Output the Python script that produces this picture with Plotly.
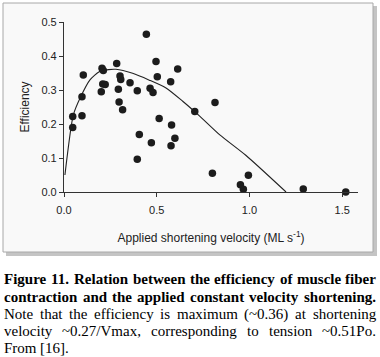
import plotly.graph_objects as go

# ---------------- data ----------------
point_velocity = [0.047, 0.097, 0.047, 0.104, 0.097, 0.205, 0.212, 0.209, 0.201, 0.222,
                  0.284, 0.302, 0.306, 0.293, 0.297, 0.316, 0.356, 0.395, 0.444, 0.464,
                  0.480, 0.496, 0.503, 0.513, 0.575, 0.580, 0.613, 0.705, 0.406, 0.471,
                  0.598, 0.577, 0.395, 0.814, 0.800, 0.994, 0.951, 0.967, 1.290, 1.519]
point_efficiency = [0.222, 0.224, 0.190, 0.344, 0.280, 0.364, 0.357, 0.318, 0.295, 0.316,
                    0.378, 0.341, 0.331, 0.302, 0.265, 0.242, 0.321, 0.298, 0.464, 0.305,
                    0.293, 0.384, 0.339, 0.216, 0.324, 0.197, 0.362, 0.237, 0.169, 0.145,
                    0.158, 0.136, 0.096, 0.263, 0.055, 0.049, 0.021, 0.008, 0.009, 0.0]

curve_velocity = [0.005, 0.05, 0.09, 0.14, 0.19, 0.24, 0.28, 0.37, 0.46, 0.55,
                  0.64, 0.73, 0.84, 0.98, 1.197]
curve_efficiency = [0.05, 0.226, 0.280, 0.330, 0.354, 0.360, 0.361, 0.349, 0.329, 0.306,
                    0.267, 0.224, 0.168, 0.108, 0.0]

x_ticks = [0.0, 0.5, 1.0, 1.5]
x_tick_labels = ["0.0", "0.5", "1.0", "1.5"]
y_ticks = [0.0, 0.1, 0.2, 0.3, 0.4, 0.5]
y_tick_labels = ["0.0", "0.1", "0.2", "0.3", "0.4", "0.5"]

x_title = "Applied shortening velocity (ML s<sup>-1</sup>)"
y_title = "Efficiency"

caption_lines = [
    ("Figure 11. Relation between the efficiency of muscle fiber", True, True),
    ("contraction and the applied constant velocity shortening.", True, True),
    ("Note that the efficiency is maximum (~0.36) at shortening", False, True),
    ("velocity ~0.27/Vmax, corresponding to tension ~0.51Po.", False, True),
    ("From [16].", False, False),
]

# ---------------- layout helpers ----------------
W, H = 380, 357
L, R, T, B = 64, 358, 22, 192


def px_x(px):
    return (px - L) / (R - L)


def px_y(py):
    return (B - py) / (B - T)


# Times New Roman / Liberation Serif advance widths (1/1000 em)
REG = dict(zip("abcdefghijklmnopqrstuvwxyz",
               [444, 500, 444, 500, 444, 333, 500, 500, 278, 278, 500, 278, 778,
                500, 500, 500, 500, 333, 389, 278, 500, 500, 722, 500, 500, 444]))
REG.update({" ": 250, "(": 333, ")": 333, ".": 250, ",": 250, "/": 278, "~": 541,
            "[": 333, "]": 333, "N": 722, "V": 722, "P": 556, "F": 556})
for d in "0123456789":
    REG[d] = 500
BOLD = dict(zip("abcdefghijklmnopqrstuvwxyz",
                [500, 556, 444, 556, 444, 333, 500, 556, 278, 333, 556, 278, 833,
                 556, 500, 556, 556, 444, 389, 333, 556, 500, 722, 500, 500, 444]))
BOLD.update({" ": 250, ".": 250, ",": 250, "F": 611, "R": 722})
for d in "0123456789":
    BOLD[d] = 500

CAP_FONT = 15
CAP_LEFT, CAP_RIGHT = 3, 375
CAP_Y = [279, 297, 314, 331, 348]


def word_width(word, bold):
    table = BOLD if bold else REG
    return sum(table.get(c, 500) for c in word) * CAP_FONT / 1000.0


fig = go.Figure()

fig.add_trace(go.Scatter(
    x=curve_velocity, y=curve_efficiency, mode="lines",
    line=dict(color="#222222", width=1.1, shape="spline", smoothing=0.6),
    hoverinfo="skip", showlegend=False))

fig.add_trace(go.Scatter(
    x=point_velocity, y=point_efficiency, mode="markers",
    marker=dict(size=7.5, color="#1c1c1c", line=dict(width=0)),
    cliponaxis=False, showlegend=False))

shapes = [
    # shadow of the figure box
    dict(type="rect", xref="paper", yref="paper", layer="below",
         x0=px_x(6), x1=px_x(377), y0=px_y(256), y1=px_y(6),
         fillcolor="#c4c4c4", line=dict(width=0)),
    # figure box
    dict(type="rect", xref="paper", yref="paper", layer="below",
         x0=px_x(3), x1=px_x(373), y0=px_y(252), y1=px_y(3),
         fillcolor="#f9f9f9", line=dict(color="#a8a8a8", width=1)),
]

annotations = []
for (text, bold, justify), yc in zip(caption_lines, CAP_Y):
    words = text.split(" ")
    widths = [word_width(w, bold) for w in words]
    if justify and len(words) > 1:
        gap = (CAP_RIGHT - CAP_LEFT - sum(widths)) / (len(words) - 1)
    else:
        gap = CAP_FONT * 0.25
    xpos = CAP_LEFT
    for w, ww in zip(words, widths):
        annotations.append(dict(
            text=("<b>%s</b>" % w) if bold else w,
            xref="paper", yref="paper", x=px_x(xpos), y=px_y(yc),
            xanchor="left", yanchor="middle", showarrow=False, borderpad=0,
            font=dict(family="Liberation Serif, Times New Roman, serif",
                      size=CAP_FONT, color="#000000")))
        xpos += ww + gap

fig.update_layout(
    width=W, height=H,
    margin=dict(l=L, r=W - R, t=T, b=H - B, pad=0),
    paper_bgcolor="#ffffff", plot_bgcolor="rgba(0,0,0,0)",
    shapes=shapes, annotations=annotations,
    font=dict(family="Liberation Sans, Arial, sans-serif", color="#222222"),
    xaxis=dict(range=[0, 1.585], tickvals=x_ticks, ticktext=x_tick_labels,
               showgrid=False, zeroline=False, showline=True,
               linecolor="#333333", linewidth=1.2,
               ticks="outside", ticklen=4, tickwidth=1, tickcolor="#333333",
               ticklabelstandoff=4,
               tickfont=dict(size=11, color="#222222"),
               title=dict(text=x_title, standoff=18,
                          font=dict(size=12, color="#222222"))),
    yaxis=dict(range=[0, 0.5], tickvals=y_ticks, ticktext=y_tick_labels,
               showgrid=False, zeroline=False, showline=True,
               linecolor="#333333", linewidth=1.2,
               ticks="outside", ticklen=4, tickwidth=1, tickcolor="#333333",
               tickfont=dict(size=11, color="#222222"),
               title=dict(text=y_title, standoff=9,
                          font=dict(size=12, color="#222222"))),
)

fig.write_html("out.html", config={"displayModeBar": False},
               post_script="document.body.style.margin='0';document.body.style.padding='0';")
